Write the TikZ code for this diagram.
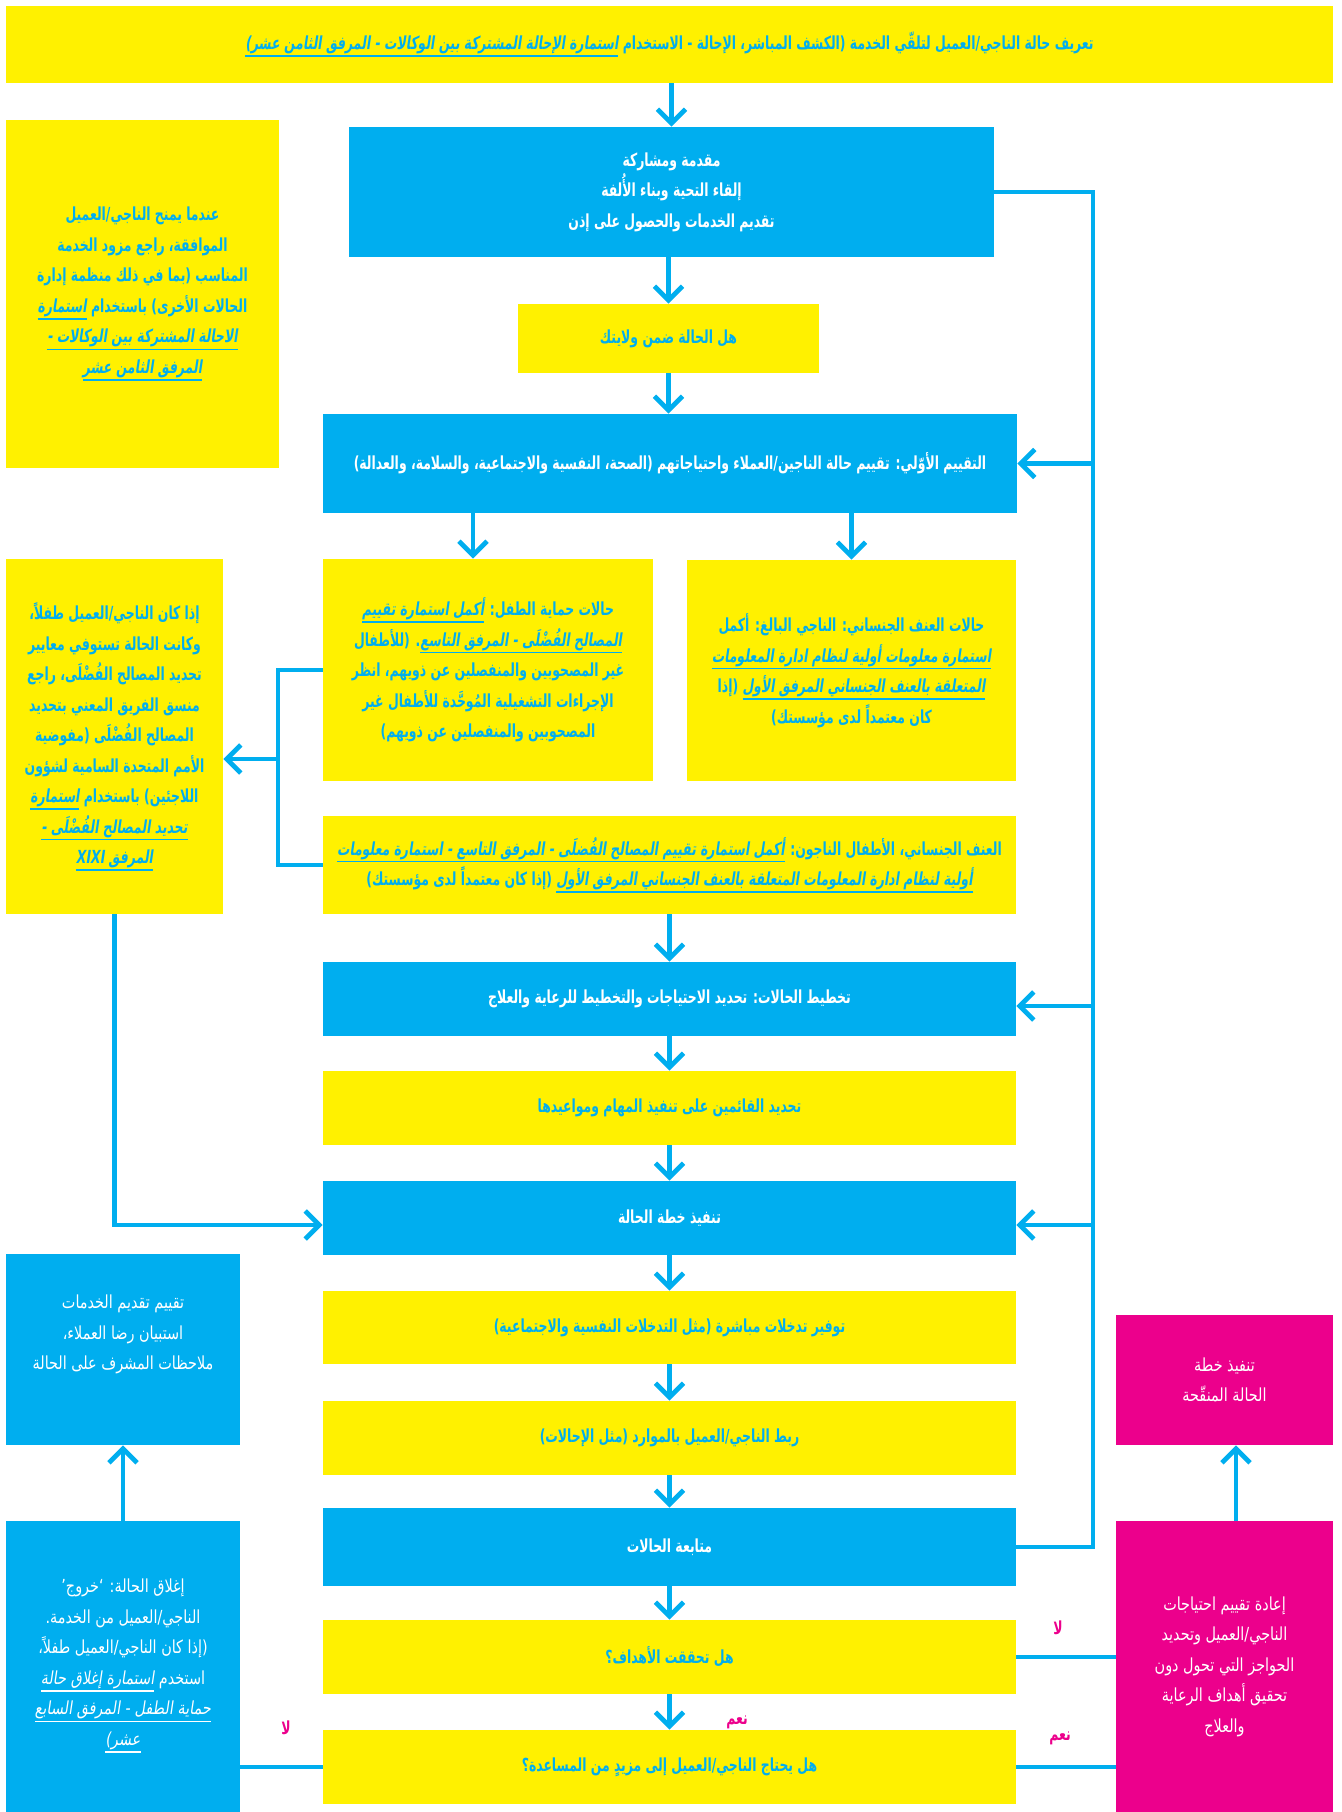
\documentclass[tikz,border=0pt]{standalone}
\usepackage{fontspec}
\usetikzlibrary{arrows.meta}
\TeXXeTstate=1
\newfontfamily\arfont[Script=Arabic,FakeStretch=0.8]{DejaVu Sans}
\newfontfamily\arslant[Script=Arabic,FakeStretch=0.8,FakeSlant=0.15]{DejaVu Sans}
\newfontfamily\arbf[Script=Arabic,FakeStretch=0.69]{DejaVu Sans}
\newfontfamily\arslantB[Script=Arabic,FakeStretch=0.69,FakeSlant=0.15]{DejaVu Sans}
\let\ulfont\arslant
\newcommand\AR[1]{\beginR #1\endR}
\newcommand\ul[1]{\vtop{\hbox{\ulfont\beginR #1\endR}\kern0.6pt\hrule height 0.8pt}}
\newcommand\fs{\fontsize{9}{15.25}\selectfont}
\definecolor{cyanB}{HTML}{00AEEF}
\definecolor{yel}{HTML}{FFF100}
\definecolor{mag}{HTML}{EC008C}
\tikzset{
  box/.style={rectangle, inner sep=0pt, align=center},
  sz/.style 2 args={minimum width=#1*0.5pt, minimum height=#2*0.5pt},
  ybox/.style={box, fill=yel, text=cyanB, font=\arbf\bfseries\let\ulfont\arslantB\fs},
  bbox/.style={box, fill=cyanB, text=white, font=\arbf\bfseries\let\ulfont\arslantB\fs},
  bboxr/.style={box, fill=cyanB, text=white, font=\arfont\fs},
  pbox/.style={box, fill=mag, text=white, font=\arfont\fs},
  conn/.style={draw=cyanB, line width=2.4pt},
  arr/.style={conn, -{Straight Barb[length=7pt,width=14pt]}},
  lab/.style={text=mag, font=\arbf\bfseries\fs},
}
\begin{document}
\begin{tikzpicture}[x=0.5pt,y=-0.5pt]
\useasboundingbox (0,0) rectangle (1341,1812);
% top banner
\node[ybox, sz={1327}{77}] (banner) at (669.5,44.5) {\AR{تعريف حالة الناجي/العميل لتلقّي الخدمة (الكشف المباشر، الإحالة - الاستخدام \ul{استمارة الإحالة المشتركة بين الوكالات - المرفق الثامن عشر)}}};
% left box 1
\node[ybox, sz={273}{348}] (lb1) at (142.5,294) {\AR{عندما يمنح الناجي/العميل}\\\AR{الموافقة، راجع مزود الخدمة}\\\AR{المناسب (بما في ذلك منظمة إدارة}\\\AR{الحالات الأخرى) باستخدام \ul{استمارة}}\\\AR{\ul{الاحالة المشتركة بين الوكالات -}}\\\AR{\ul{المرفق الثامن عشر}}};
% intro
\node[bbox, sz={645}{130}] (intro) at (671.5,192) {\AR{مقدمة ومشاركة}\\\AR{إلقاء التحية وبناء الأُلفة}\\\AR{تقديم الخدمات والحصول على إذن}};
\node[ybox, sz={301}{69}] (mandate) at (668.5,338.5) {\AR{هل الحالة ضمن ولايتك}};
\node[bbox, sz={694}{99}] (assess) at (670,463.5) {\AR{التقييم الأوّلي: تقييم حالة الناجين/العملاء واحتياجاتهم (الصحة، النفسية والاجتماعية، والسلامة، والعدالة)}};
% child protection
\node[ybox, sz={330}{222}] (cp) at (488,670) {\AR{حالات حماية الطفل: \ul{أكمل استمارة تقييم}}\\\AR{\ul{المصالح الفُضْلَى - المرفق التاسع}. (للأطفال}\\\AR{غير المصحوبين والمنفصلين عن ذويهم، انظر}\\\AR{الإجراءات التشغيلية المُوحَّدة للأطفال غير}\\\AR{المصحوبين والمنفصلين عن ذويهم)}};
% SV adult
\node[ybox, sz={329}{221}] (sva) at (851.5,670.5) {\AR{حالات العنف الجنساني: الناجي البالغ: أكمل}\\\AR{\ul{استمارة معلومات أولية لنظام ادارة المعلومات}}\\\AR{\ul{المتعلقة بالعنف الجنساني المرفق الأول} (إذا}\\\AR{كان معتمداً لدى مؤسستك)}};
% SV children
\node[ybox, sz={693}{98}] (svc) at (669.5,865) {\AR{العنف الجنساني، الأطفال الناجون: \ul{أكمل استمارة تقييم المصالح الفُضلَى - المرفق التاسع - استمارة معلومات}}\\\AR{\ul{أولية لنظام ادارة المعلومات المتعلقة بالعنف الجنساني المرفق الأول} (إذا كان معتمداً لدى مؤسستك)}};
% left box 2
\node[ybox, sz={217}{355}] (lb2) at (114.5,736.5) {\AR{إذا كان الناجي/العميل طفلاً،}\\\AR{وكانت الحالة تستوفي معايير}\\\AR{تحديد المصالح الفُضْلَى، راجع}\\\AR{منسق الفريق المعني بتحديد}\\\AR{المصالح الفُضْلَى (مفوضية}\\\AR{الأمم المتحدة السامية لشؤون}\\\AR{اللاجئين) باستخدام \ul{استمارة}}\\\AR{\ul{تحديد المصالح الفُضْلَى -}}\\\AR{\ul{المرفق \beginL XIXI\endL}}};
% main column
\node[bbox, sz={693}{74}] (plan) at (669.5,999) {\AR{تخطيط الحالات: تحديد الاحتياجات والتخطيط للرعاية والعلاج}};
\node[ybox, sz={693}{74}] (tasks) at (669.5,1108) {\AR{تحديد القائمين على تنفيذ المهام ومواعيدها}};
\node[bbox, sz={693}{74}] (impl) at (669.5,1218) {\AR{تنفيذ خطة الحالة}};
\node[ybox, sz={693}{73}] (direct) at (669.5,1327.5) {\AR{توفير تدخلات مباشرة (مثل التدخلات النفسية والاجتماعية)}};
\node[ybox, sz={693}{74}] (link) at (669.5,1438) {\AR{ربط الناجي/العميل بالموارد (مثل الإحالات)}};
\node[bbox, sz={693}{78}] (follow) at (669.5,1547) {\AR{متابعة الحالات}};
\node[ybox, sz={693}{74}] (goal) at (669.5,1657) {\AR{هل تحققت الأهداف؟}};
\node[ybox, sz={693}{74}] (help) at (669.5,1767) {\AR{هل يحتاج الناجي/العميل إلى مزيدٍ من المساعدة؟}};
% bottom left
\node[bboxr, sz={234}{191}] (eval) at (123,1349.5) {\AR{تقييم تقديم الخدمات}\\\AR{استبيان رضا العملاء،}\\\AR{ملاحظات المشرف على الحالة}\\[2pt]\mbox{}};
\node[bboxr, sz={234}{291}] (close) at (123,1666.5) {\mbox{}\\[-9pt]\AR{إغلاق الحالة: ‘خروج’}\\\AR{الناجي/العميل من الخدمة.}\\\AR{(إذا كان الناجي/العميل طفلاً،}\\\AR{استخدم \ul{استمارة إغلاق حالة}}\\\AR{\ul{حماية الطفل - المرفق السابع}}\\\AR{\ul{عشر)}}};
% pink
\node[pbox, sz={217}{130}] (revised) at (1224.5,1380) {\AR{تنفيذ خطة}\\\AR{الحالة المنقّحة}};
\node[pbox, sz={217}{291}] (reassess) at (1224.5,1666.5) {\AR{إعادة تقييم احتياجات}\\\AR{الناجي/العميل وتحديد}\\\AR{الحواجز التي تحول دون}\\\AR{تحقيق أهداف الرعاية}\\\AR{والعلاج}};
% labels
\node[lab] (no1) at (1058,1628) {\AR{لا}};
\node[lab] (yes1) at (1060,1738) {\AR{نعم}};
\node[lab] (yes2) at (737,1722) {\AR{نعم}};
\node[lab] (no2) at (286,1728) {\AR{لا}};
% main arrows
\draw[arr] (banner.south -| intro.north) -- (intro.north);
\draw[arr] (intro.south -| mandate.north) -- (mandate.north);
\draw[arr] (mandate.south) -- (mandate.south |- assess.north);
\draw[arr] ([xshift=-7.5pt]cp.north |- assess.south) -- ([xshift=-7.5pt]cp.north);
\draw[arr] (sva.north |- assess.south) -- (sva.north);
\draw[arr] (svc.south) -- (plan.north);
\draw[arr] (plan.south) -- (tasks.north);
\draw[arr] (tasks.south) -- (impl.north);
\draw[arr] (impl.south) -- (direct.north);
\draw[arr] (direct.south) -- (link.north);
\draw[arr] (link.south) -- (follow.north);
\draw[arr] (follow.south) -- (goal.north);
\draw[arr] (goal.south) -- (help.north);
% right loop
\coordinate (rt) at (1093,192);
\coordinate (rb) at (1093,1547);
\draw[conn, line join=miter] (intro.east) -- (rt) -- (rb) -- (follow.east);
\draw[arr] (rt |- assess.east) -- (assess.east);
\draw[arr] ([yshift=-3.5pt]rt |- plan.east) -- ([yshift=-3.5pt]plan.east);
\draw[arr] ([yshift=-3.5pt]rt |- impl.east) -- ([yshift=-3.5pt]impl.east);
% left bracket
\coordinate (bk) at (278,759);
\draw[conn, line join=miter] (cp.west) -- (cp.west -| bk) -- (svc.west -| bk) -- (svc.west);
\draw[arr] (bk) -- (bk -| lb2.east);
\draw[arr, line join=miter] (lb2.south) |- ([yshift=-3.5pt]impl.west);
% bottom
\draw[conn] (goal.east) -- (goal.east -| reassess.west);
\draw[conn] (help.east) -- (help.east -| reassess.west);
\draw[conn] (help.west) -- (help.west -| close.east);
\draw[arr] ([xshift=5.75pt]reassess.north) -- ([xshift=5.75pt]revised.south);
\draw[arr] (close.north) -- (eval.south);
\end{tikzpicture}
\end{document}
